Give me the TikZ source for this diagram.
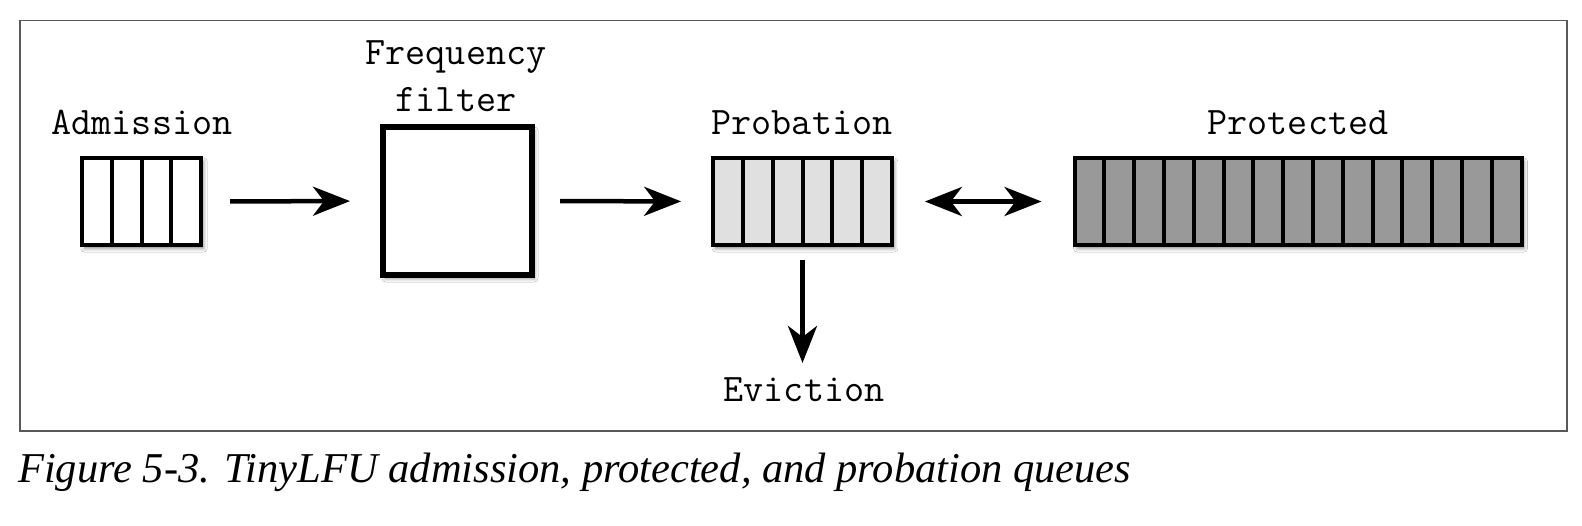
\documentclass[tikz,border=0pt]{standalone}
\usepackage{fontspec}
\newfontfamily\capfont{Liberation Serif}
\usetikzlibrary{arrows.meta,calc,shadows.blur}
\begin{document}
\begin{tikzpicture}[x=1pt,y=-1pt,
  lbl/.style={inner sep=0pt,font=\fontsize{39}{47}\selectfont\ttfamily},
  queue/.style={draw=black,line width=4pt,inner sep=0pt,outer sep=0pt,minimum height=87pt,
    blur shadow={shadow xshift=2.5pt,shadow yshift=-3.5pt,shadow blur radius=3.5pt,shadow opacity=45}},
  filterbox/.style={draw=black,line width=6pt,inner sep=0pt,outer sep=0pt,fill=white,
    minimum width=149pt,minimum height=148pt,
    blur shadow={shadow xshift=2.5pt,shadow yshift=-3.5pt,shadow blur radius=3.5pt,shadow opacity=45}},
  divider/.style={black,line width=4pt},
  arr/.style={line width=4.5pt,-{Stealth[length=37pt,width=29pt,inset=11pt]}},
  darr/.style={line width=4.5pt,{Stealth[length=37pt,width=29pt,inset=11pt]}-{Stealth[length=37pt,width=29pt,inset=11pt]}},
  frame/.style={draw=black!65,line width=1.6pt}
]
\useasboundingbox (0,0) rectangle (1582,526);
\fill[white] (0,0) rectangle (1582,526);
\draw[frame] (20,20.5) rectangle (1567,431);

% queues
\node[queue,fill=white,minimum width=119.2pt] (adm) at (141.5,201.5) {};
\foreach \i in {1,...,3}
  \draw[divider] ($(adm.north west)+(\i*29.8,0)$) -- ($(adm.south west)+(\i*29.8,0)$);
\node[filterbox] (filt) at (457.5,201) {};
\node[queue,fill=black!12,minimum width=178.8pt] (prob) at (802.5,201.5) {};
\foreach \i in {1,...,5}
  \draw[divider] ($(prob.north west)+(\i*29.8,0)$) -- ($(prob.south west)+(\i*29.8,0)$);
\node[queue,fill=black!40,minimum width=447pt] (prot) at (1298,201.5) {};
\foreach \i in {1,...,14}
  \draw[divider] ($(prot.north west)+(\i*29.8,0)$) -- ($(prot.south west)+(\i*29.8,0)$);

% labels
\node[lbl,anchor=base] (admlbl) at (142,135) {Admission};
\node[lbl,anchor=base,align=center] (filtlbl) at (456,112) {Frequency\\filter};
\node[lbl,anchor=base] (problbl) at (802,135) {Probation};
\node[lbl,anchor=base] (protlbl) at (1298,135) {Protected};
\node[lbl,anchor=base] (evict) at (804,402) {Eviction};

% connectors
\draw[arr,shorten <=29pt,shorten >=33pt] (adm.east) -- (filt.west);
\draw[arr,shorten <=28pt,shorten >=32pt] (filt.east) -- (prob.west);
\draw[darr,shorten <=33pt,shorten >=33pt] (prob.east) -- (prot.west);
\draw[arr,shorten <=15pt,shorten >=15pt] (prob.south) -- (prob.south |- evict.north);

% caption
\node[anchor=base west,inner sep=0pt,font=\capfont\itshape\fontsize{42.5}{50}\selectfont] (cap) at (18,482)
  {Figure 5-3. TinyLFU admission, protected, and probation queues};
\end{tikzpicture}
\end{document}
